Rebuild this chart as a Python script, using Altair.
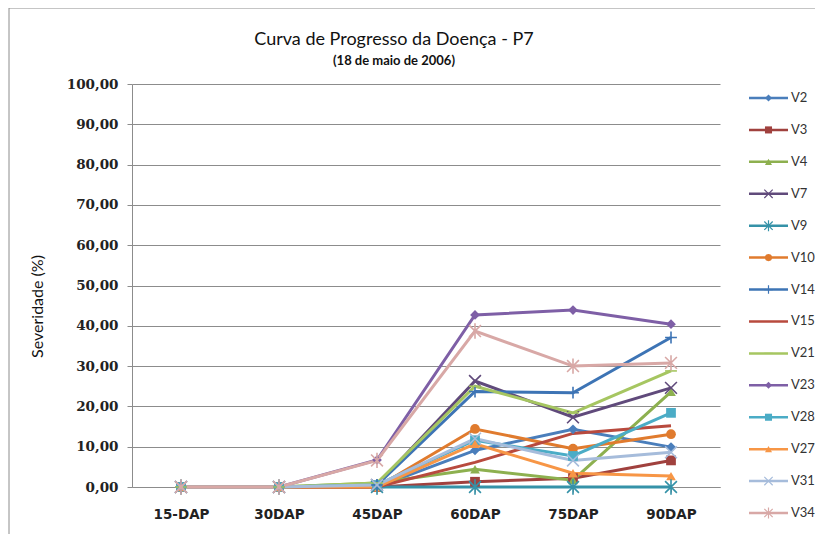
import altair as alt
import pandas as pd

categories = ["15-DAP", "30DAP", "45DAP", "60DAP", "75DAP", "90DAP"]
series = ["V2", "V3", "V4", "V7", "V9", "V10", "V14", "V15", "V21", "V23", "V28", "V27", "V31", "V34"]

V2 = [0, 0, 0, 9.1, 14.3, 9.9]
V3 = [0, 0, 0, 1.3, 2.2, 6.6]
V4 = [0, 0, 1.0, 4.4, 1.7, 23.6]
V7 = [0, 0, 0.5, 26.3, 17.3, 24.6]
V9 = [0, 0, 0, 0, 0, 0]
V10 = [0, 0, 0, 14.4, 9.5, 13.1]
V14 = [0, 0, 0.5, 23.7, 23.4, 37.1]
V15 = [0, 0, 0, 6.1, 13.3, 15.2]
V21 = [0, 0, 1.0, 25.0, 18.4, 28.8]
V23 = [0, 0, 6.7, 42.7, 43.9, 40.4]
V28 = [0, 0, 0.5, 11.6, 7.7, 18.4]
V27 = [0, 0, 0, 10.7, 3.4, 2.7]
V31 = [0, 0, 0.5, 12.0, 6.6, 8.6]
V34 = [0, 0, 6.6, 38.7, 30.0, 30.8]

values = [V2, V3, V4, V7, V9, V10, V14, V15, V21, V23, V28, V27, V31, V34]

colors = ["#4A7EBB", "#A0413E", "#8DB04F", "#604A7B", "#3592A8", "#E07B2E", "#3D74B5",
          "#B84A3E", "#A6C661", "#7E5FA6", "#4BACC6", "#F79646", "#A6BCDB", "#D8A8A6"]

X_PATH = "M-1,-1L1,1M-1,1L1,-1"
AST_PATH = "M-1,-1L1,1M-1,1L1,-1M0,-1.3L0,1.3"
PLUS_PATH = "M-1,0L1,0M0,-1L0,1"
DASH_PATH = "M-1,0L1,0"
shapes = ["diamond", "square", "triangle-up", X_PATH, AST_PATH, "circle", PLUS_PATH,
          "circle", DASH_PATH, "diamond", "square", "triangle-up", X_PATH, AST_PATH]
marker_kind = ["fill", "fill", "fill", "stroke", "stroke", "fill", "stroke",
               "none", "stroke", "fill", "fill", "fill", "stroke", "stroke"]

rows = []
for s, vals, kind in zip(series, values, marker_kind):
    for c, v in zip(categories, vals):
        rows.append({"serie": s, "dap": c, "sev": v, "kind": kind})
df = pd.DataFrame(rows)
leg = pd.DataFrame({"serie": series, "kind": marker_kind})

color_scale = alt.Scale(domain=series, range=colors)
shape_scale = alt.Scale(domain=series, range=shapes)

x_enc = alt.X("dap:N", sort=categories, title=None,
              scale=alt.Scale(paddingInner=0, paddingOuter=0),
              axis=alt.Axis(labelAngle=0, bandPosition=0, ticks=True, tickSize=5,
                            tickColor="#8C8C8C", domainColor="#8C8C8C",
                            labelFont="DejaVu Sans", labelFontSize=13.5, labelFontWeight="bold",
                            labelColor="#222222", labelPadding=15, grid=False))
y_enc = alt.Y("sev:Q", title="Severidade (%)",
              scale=alt.Scale(domain=[0, 100]),
              axis=alt.Axis(values=list(range(0, 101, 10)),
                            labelExpr="replace(format(datum.value, '.2f'), '.', ',')",
                            labelFont="DejaVu Serif", labelFontSize=13.5, labelFontWeight="bold",
                            labelColor="#222222", labelPadding=9,
                            tickSize=5, tickColor="#8C8C8C", domainColor="#8C8C8C",
                            grid=True, gridColor="#8C8C8C", gridWidth=1,
                            titleFont="Lato", titleFontSize=16, titleFontWeight="normal",
                            titleColor="#111111", titleX=-95, titleY=222, titleAngle=-90,
                            titleAlign="center", titleBaseline="middle"))

base = alt.Chart(df)
lines = base.mark_line(strokeWidth=3).encode(
    x=x_enc, y=y_enc,
    color=alt.Color("serie:N", scale=color_scale, legend=None),
    detail="serie:N",
    order=alt.Order("dap_idx:Q"),
).transform_calculate(dap_idx="indexof(" + str(categories) + ", datum.dap)")

pts_fill = base.transform_filter("datum.kind == 'fill'").mark_point(filled=True, size=95, opacity=1).encode(
    x=alt.X("dap:N", sort=categories), y="sev:Q",
    color=alt.Color("serie:N", scale=color_scale, legend=None),
    shape=alt.Shape("serie:N", scale=shape_scale, legend=None))
pts_stroke = base.transform_filter("datum.kind == 'stroke'").mark_point(filled=False, size=140, strokeWidth=1.6, opacity=1).encode(
    x=alt.X("dap:N", sort=categories), y="sev:Q",
    color=alt.Color("serie:N", scale=color_scale, legend=None),
    shape=alt.Shape("serie:N", scale=shape_scale, legend=None))

main = alt.layer(lines, pts_fill, pts_stroke)

ly = alt.Y("serie:N", sort=series, axis=None,
           scale=alt.Scale(type="point", domain=series, range=[14, 429], padding=0))
lbase = alt.Chart(leg)
leg_rule = lbase.mark_rule(strokeWidth=2.5).encode(
    x=alt.value(617), x2=alt.value(656), y=ly,
    color=alt.Color("serie:N", scale=color_scale, legend=None))
leg_fill = lbase.transform_filter("datum.kind == 'fill'").mark_point(filled=True, size=50, opacity=1).encode(
    x=alt.value(636.5), y=ly,
    color=alt.Color("serie:N", scale=color_scale, legend=None),
    shape=alt.Shape("serie:N", scale=shape_scale, legend=None))
leg_stroke = lbase.transform_filter("datum.kind == 'stroke'").mark_point(filled=False, size=70, strokeWidth=1.2, opacity=1).encode(
    x=alt.value(636.5), y=ly,
    color=alt.Color("serie:N", scale=color_scale, legend=None),
    shape=alt.Shape("serie:N", scale=shape_scale, legend=None))
leg_text = lbase.mark_text(align="left", baseline="middle", font="Lato", fontSize=13, color="#333333").encode(
    x=alt.value(659), y=ly, text="serie:N")
legend = alt.layer(leg_rule, leg_fill, leg_stroke, leg_text)

fdf = pd.DataFrame({"a": [0]})
frame_left = alt.Chart(fdf).mark_rule(stroke="#8C8C8C", strokeWidth=1).encode(
    x=alt.value(-123), y=alt.value(-76), y2=alt.value(2000))
frame_top = alt.Chart(fdf).mark_rule(stroke="#8C8C8C", strokeWidth=1).encode(
    x=alt.value(-123), x2=alt.value(2000), y=alt.value(-76))

chart = alt.layer(frame_left, frame_top, main, legend).resolve_scale(y="independent").properties(
    width=588, height=403,
    background="white",
    autosize=alt.AutoSizeParams(type="none"),
    padding={"left": 124, "top": 76, "right": 95, "bottom": 47},
    title=alt.TitleParams(text="Curva de Progresso da Doença - P7",
                          subtitle="(18 de maio de 2006)",
                          anchor="middle", dx=-32, offset=-60,
                          font="Lato", fontSize=18, fontWeight="normal", color="#111111",
                          subtitleFont="Lato", subtitleFontSize=13, subtitleFontWeight="bold",
                          subtitleColor="#111111", subtitlePadding=6),
).configure_view(stroke="transparent", strokeWidth=0)

chart.save("out.html", embed_options={"renderer": "svg", "actions": False})
